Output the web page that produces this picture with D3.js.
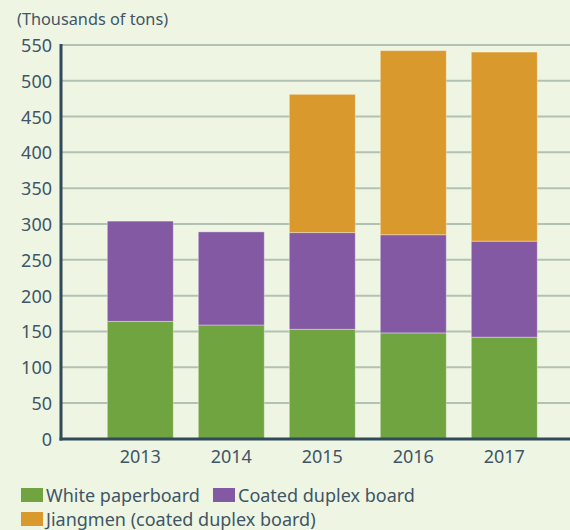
<!DOCTYPE html>
<html><head><meta charset="utf-8">
<script src="https://cdn.jsdelivr.net/npm/d3@7"></script>
<style>
html,body{margin:0;padding:0;background:#eff5e3;}
svg{display:block;}
text{font-family:"Noto Sans",sans-serif;fill:#3e5666;}
</style></head>
<body>
<svg id="chart" width="570" height="530"></svg>
<script>
const years = ["2013","2014","2015","2016","2017"];
const whitePaperboard = [164, 159, 153, 148, 142];
const coatedDuplex = [140, 130, 135, 137, 134];
const jiangmen = [0, 0, 193, 257, 264];
const seriesNames = ["White paperboard","Coated duplex board","Jiangmen (coated duplex board)"];
const seriesColors = ["#70a441","#8459a4","#d9992c"];
const yTicks = [0,50,100,150,200,250,300,350,400,450,500,550];
const unitLabel = "(Thousands of tons)";

const svg = d3.select("#chart");
const W = 570, H = 530;
const x0 = 61, yBase = 438.9, yTop = 44.9;

const table = years.map((y,i)=>({year:y, w:whitePaperboard[i], c:coatedDuplex[i], j:jiangmen[i]}));
const stack = d3.stack().keys(["w","c","j"])(table);

const x = d3.scaleBand().domain(years).range([x0, 583.6]).paddingInner(0.275).paddingOuter(0.509);
const y = d3.scaleLinear().domain([0,550]).range([yBase, yTop]);

// gridlines
svg.append("g").selectAll("line").data(yTicks.filter(d=>d>0)).join("line")
  .attr("x1", x0).attr("x2", W)
  .attr("y1", d=>y(d)).attr("y2", d=>y(d))
  .attr("stroke", "#b3c1b4").attr("stroke-width", 2);

// bars
svg.append("g").selectAll("g").data(stack).join("g")
  .attr("fill", (d,i)=>seriesColors[i])
  .selectAll("rect").data(d=>d.filter(s=>s[1]-s[0]>0)).join("rect")
  .attr("x", d=>x(d.data.year))
  .attr("width", x.bandwidth())
  .attr("y", d=>y(d[1]))
  .attr("height", d=>y(d[0])-y(d[1]))
  .attr("stroke", "rgba(255,255,255,0.35)").attr("stroke-width", 1);

// y axis
const yAxis = d3.axisLeft(y).tickValues(yTicks).tickSize(0).tickPadding(9);
const gy = svg.append("g").attr("transform", `translate(${x0},0)`).call(yAxis);
gy.select(".domain").remove();
gy.selectAll("text").style("font-size","18px").style("font-family","'Noto Sans',sans-serif").attr("fill","#3e5666").attr("dy","0.36em");
svg.append("line").attr("x1", x0).attr("x2", x0).attr("y1", yTop-1).attr("y2", yBase+1.5)
  .attr("stroke", "#2f4a5a").attr("stroke-width", 3);

// x axis
const xAxis = d3.axisBottom(x).tickSize(0).tickPadding(11);
const gx = svg.append("g").attr("transform", `translate(0,${yBase})`).call(xAxis);
gx.select(".domain").remove();
gx.selectAll("text").style("font-size","18px").style("font-family","'Noto Sans',sans-serif").attr("fill","#3e5666");
svg.append("line").attr("x1", x0-1.5).attr("x2", W).attr("y1", yBase).attr("y2", yBase)
  .attr("stroke", "#2f4a5a").attr("stroke-width", 3);

// unit label
svg.append("text").attr("x", 17).attr("y", 25).style("font-size","16.3px").text(unitLabel);

// legend
const legendPos = [[21,488],[213,488],[21,512]];
const lg = svg.append("g").selectAll("g").data(seriesNames).join("g")
  .attr("transform", (d,i)=>`translate(${legendPos[i][0]},${legendPos[i][1]})`);
lg.append("rect").attr("width", 22).attr("height", 14).attr("fill", (d,i)=>seriesColors[i]);
lg.append("text").attr("x", 25).attr("y", 14).style("font-size","18px").text(d=>d);
</script>
</body></html>
